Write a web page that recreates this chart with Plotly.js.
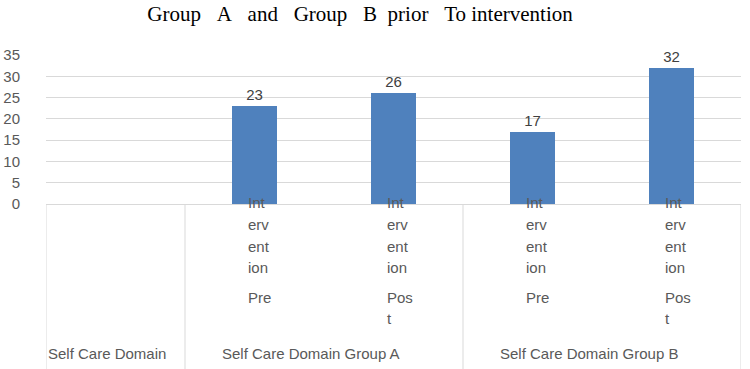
<!DOCTYPE html>
<html>
<head>
<meta charset="utf-8">
<script src="https://cdn.plot.ly/plotly-3.0.1.min.js"></script>
<style>html,body{margin:0;padding:0;background:#fff;}#chart{width:750px;height:369px;}</style>
</head>
<body>
<div id="chart"></div>
<script>
// ---- data ----
const categories = ["Self Care Domain", "Group A Pre", "Group A Post", "Group B Pre", "Group B Post"];
const values = [null, 23, 26, 17, 32];
const subLabelLines = [
  [],
  ["Int", "erv", "ent", "ion", "Pre"],
  ["Int", "erv", "ent", "ion", "Pos", "t"],
  ["Int", "erv", "ent", "ion", "Pre"],
  ["Int", "erv", "ent", "ion", "Pos", "t"]
];
const groupLabels = ["Self Care Domain", "Self Care Domain Group A", "Self Care Domain Group B"];
const groupStartIndex = [0, 1, 3];
const yTicks = [0, 5, 10, 15, 20, 25, 30, 35];
const titleText = "Group\u00a0\u00a0\u00a0A\u00a0\u00a0\u00a0and\u00a0\u00a0\u00a0Group\u00a0\u00a0\u00a0B\u00a0\u00a0prior\u00a0\u00a0\u00a0To intervention";

// ---- layout helpers ----
const W = 750, H = 369;
const mL = 46, mR = 9, mT = 55, mB = 165;
const plotH = H - mT - mB;
const labelColor = "#595959";
const sansFont = "Liberation Sans, Arial, sans-serif";
const lineYpx = [202, 224, 246, 267, 297, 318]; // pixel y of each sub-label line
const zeroPx = H - mB;

const annotations = [];
subLabelLines.forEach((lines, ci) => {
  lines.forEach((t, li) => {
    annotations.push({
      x: ci, xref: "x", y: 0, yref: "paper",
      xanchor: "left", yanchor: "middle", xshift: -9,
      yshift: -(lineYpx[li] - zeroPx),
      text: t, showarrow: false,
      font: {family: sansFont, size: 15, color: labelColor}
    });
  });
});
groupLabels.forEach((g, gi) => {
  annotations.push({
    x: groupStartIndex[gi] - 0.5, xref: "x", y: 0, yref: "paper",
    xanchor: "left", yanchor: "middle",
    xshift: gi === 0 ? 0 : 35,
    yshift: -(353 - zeroPx),
    text: g, showarrow: false,
    font: {family: sansFont, size: 15, color: labelColor}
  });
});

const shapes = [-0.5, 0.5, 2.5, 4.5].map(b => ({
  type: "line", xref: "x", yref: "paper",
  x0: b, x1: b, y0: 0, y1: -(H - zeroPx) / plotH,
  line: {color: "#d9d9d9", width: 1}
}));

const trace = {
  type: "bar", x: categories, y: values,
  width: 0.32,
  marker: {color: "#4f81bd"},
  text: values.map(v => v === null ? "" : String(v)),
  textposition: "outside",
  textfont: {family: sansFont, size: 15, color: "#404040"},
  cliponaxis: false,
  hoverinfo: "skip"
};

const layout = {
  width: W, height: H,
  margin: {l: mL, r: mR, t: mT, b: mB, pad: 0},
  paper_bgcolor: "#ffffff", plot_bgcolor: "#ffffff",
  showlegend: false,
  title: {
    text: titleText,
    font: {family: "Liberation Serif, Times New Roman, serif", size: 21, color: "#000000"},
    x: 0.48, xanchor: "center", y: 1, yref: "container", yanchor: "top", pad: {t: 6}
  },
  bargap: 0,
  xaxis: {
    type: "category", categoryorder: "array", categoryarray: categories,
    range: [-0.5, 4.5], showticklabels: false, showgrid: false,
    zeroline: false, showline: false, ticks: "", fixedrange: true
  },
  yaxis: {
    range: [0, 35], tickvals: yTicks, ticktext: yTicks.map(String),
    showgrid: true, gridcolor: "#d9d9d9", gridwidth: 1,
    zeroline: true, zerolinecolor: "#d9d9d9", zerolinewidth: 1,
    showline: false, ticks: "outside", ticklen: 22, tickcolor: "rgba(0,0,0,0)",
    tickfont: {family: sansFont, size: 15, color: labelColor},
    fixedrange: true
  },
  annotations: annotations,
  shapes: shapes
};

Plotly.newPlot("chart", [trace], layout, {displayModeBar: false, staticPlot: true});
</script>
</body>
</html>
